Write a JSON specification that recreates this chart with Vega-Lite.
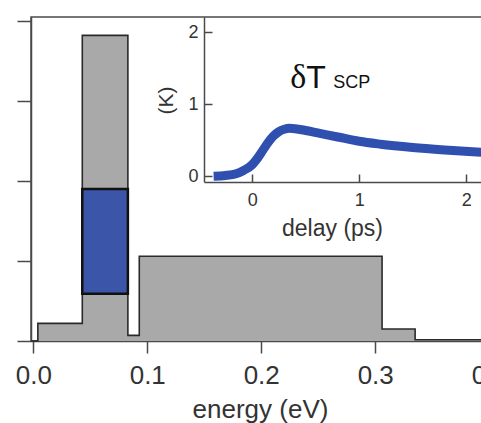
{
  "$schema": "https://vega.github.io/schema/vega-lite/v6.json",
  "width": 481,
  "height": 324,
  "autosize": "none",
  "padding": {"left": 31, "top": 17, "right": 0, "bottom": 82},
  "background": "white",
  "config": {
    "view": {"stroke": "#4a4a4a", "strokeWidth": 1.5},
    "font": "Liberation Sans",
    "axis": {
      "domainColor": "#4a4a4a",
      "tickColor": "#4a4a4a",
      "domainWidth": 1.5,
      "tickWidth": 1.5,
      "labelColor": "#333333",
      "titleColor": "#333333",
      "titleFontWeight": "normal",
      "grid": false,
      "labelFont": "Liberation Sans",
      "titleFont": "Liberation Sans",
      "labelFlush": false
    }
  },
  "datasets": {
    "hist": [
      {"e": -0.002, "v": 0},
      {"e": 0.004, "v": 0.22},
      {"e": 0.043, "v": 3.82},
      {"e": 0.083, "v": 0.07},
      {"e": 0.093, "v": 1.06},
      {"e": 0.306, "v": 0.15},
      {"e": 0.335, "v": 0.015},
      {"e": 0.42, "v": 0.015}
    ],
    "box": [{"e0": 0.043, "e1": 0.083, "v0": 0.59, "v1": 1.9}],
    "curve": [
      {"d": -0.36, "k": 0.0},
      {"d": -0.25, "k": 0.01},
      {"d": -0.15, "k": 0.035},
      {"d": -0.08, "k": 0.08},
      {"d": 0.0, "k": 0.16},
      {"d": 0.05, "k": 0.25},
      {"d": 0.1, "k": 0.36},
      {"d": 0.15, "k": 0.47},
      {"d": 0.2, "k": 0.56},
      {"d": 0.25, "k": 0.62},
      {"d": 0.3, "k": 0.652},
      {"d": 0.35, "k": 0.665},
      {"d": 0.4, "k": 0.66},
      {"d": 0.5, "k": 0.635},
      {"d": 0.6, "k": 0.605},
      {"d": 0.8, "k": 0.545},
      {"d": 1.0, "k": 0.485},
      {"d": 1.2, "k": 0.445},
      {"d": 1.5, "k": 0.4},
      {"d": 1.8, "k": 0.365},
      {"d": 2.1, "k": 0.335},
      {"d": 2.4, "k": 0.31}
    ],
    "delta": [{"d": 0.355, "k": 1.22, "t": "δ"}],
    "tee": [{"d": 0.505, "k": 1.22, "t": "T"}],
    "sub": [{"d": 0.757, "k": 1.22, "t": "SCP"}]
  },
  "layer": [
    {
      "encoding": {
        "x": {
          "type": "quantitative",
          "scale": {"domain": [-0.002, 0.42], "nice": false, "zero": false},
          "axis": {
            "orient": "bottom",
            "values": [0, 0.1, 0.2, 0.3, 0.4],
            "format": ".1f",
            "labelFontSize": 26,
            "tickSize": 12,
            "labelPadding": 9,
            "title": "energy (eV)",
            "titleFontSize": 26,
            "titleX": 229,
            "titleY": 76,
            "titleBaseline": "alphabetic"
          }
        },
        "y": {
          "type": "quantitative",
          "scale": {"domain": [0, 4.05], "nice": false, "zero": false},
          "axis": {
            "orient": "left",
            "values": [0, 1, 2, 3, 4],
            "labels": false,
            "tickSize": 14,
            "title": null
          }
        }
      },
      "layer": [
        {
          "data": {"name": "hist"},
          "mark": {"type": "area", "interpolate": "step-after", "color": "#a9a9a9"},
          "encoding": {"x": {"field": "e"}, "y": {"field": "v"}}
        },
        {
          "data": {"name": "hist"},
          "mark": {"type": "line", "interpolate": "step-after", "color": "#2a2a2a", "strokeWidth": 1.6},
          "encoding": {"x": {"field": "e"}, "y": {"field": "v"}}
        },
        {
          "data": {"name": "box"},
          "mark": {"type": "rect", "fill": "#3b56a8", "stroke": "#111111", "strokeWidth": 2.5},
          "encoding": {
            "x": {"field": "e0"},
            "x2": {"field": "e1"},
            "y": {"field": "v0"},
            "y2": {"field": "v1"}
          }
        }
      ]
    },
    {
      "encoding": {
        "x": {
          "type": "quantitative",
          "scale": {"domain": [-0.45, 2.5], "range": [173, 488.65], "nice": false, "zero": false},
          "axis": {
            "orient": "bottom",
            "offset": -159,
            "values": [0, 1, 2],
            "labelFontSize": 18,
            "tickSize": -8,
            "labelPadding": 17,
            "title": "delay (ps)",
            "titleFontSize": 23,
            "titleX": 301,
            "titleY": 53,
            "titleBaseline": "alphabetic"
          }
        },
        "y": {
          "type": "quantitative",
          "scale": {"domain": [-0.08, 2.21], "range": [165, 0], "nice": false, "zero": false},
          "axis": {
            "orient": "left",
            "offset": -173,
            "values": [0, 1, 2],
            "labelFontSize": 18,
            "tickSize": -8,
            "labelPadding": 14,
            "title": "(K)",
            "titleFontSize": 21,
            "titleX": -38,
            "titleY": 83,
            "titleBaseline": "middle"
          }
        }
      },
      "layer": [
        {
          "data": {"name": "curve"},
          "mark": {"type": "line", "interpolate": "monotone", "color": "#3050b0", "strokeWidth": 9, "strokeCap": "butt"},
          "encoding": {"x": {"field": "d"}, "y": {"field": "k"}}
        },
        {
          "data": {"name": "delta"},
          "mark": {"type": "text", "font": "Liberation Serif", "fontSize": 34, "align": "left", "baseline": "alphabetic", "color": "#111111"},
          "encoding": {"x": {"field": "d"}, "y": {"field": "k"}, "text": {"field": "t"}}
        },
        {
          "data": {"name": "tee"},
          "mark": {"type": "text", "font": "Liberation Sans", "fontSize": 32, "align": "left", "baseline": "alphabetic", "color": "#111111"},
          "encoding": {"x": {"field": "d"}, "y": {"field": "k"}, "text": {"field": "t"}}
        },
        {
          "data": {"name": "sub"},
          "mark": {"type": "text", "font": "Liberation Sans", "fontSize": 18, "align": "left", "baseline": "alphabetic", "color": "#111111"},
          "encoding": {"x": {"field": "d"}, "y": {"field": "k"}, "text": {"field": "t"}}
        }
      ]
    }
  ],
  "resolve": {
    "scale": {"x": "independent", "y": "independent"},
    "axis": {"x": "independent", "y": "independent"}
  }
}
